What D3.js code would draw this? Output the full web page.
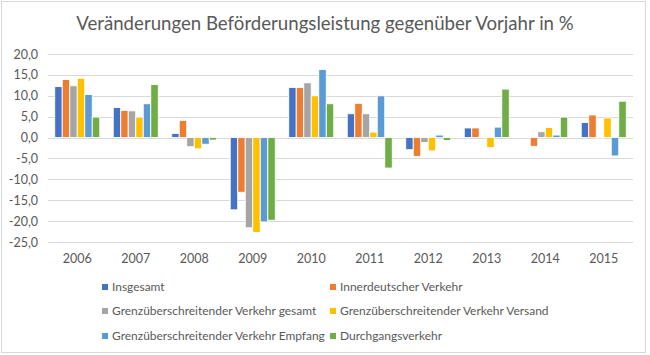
<!DOCTYPE html>
<html><head><meta charset="utf-8">
<script src="https://cdn.jsdelivr.net/npm/d3@7"></script>
<style>
html,body{margin:0;padding:0;background:#fff;}
svg{display:block;font-family:Lato,"Open Sans",sans-serif;}
</style></head>
<body>
<svg id="chart" width="650" height="355"></svg>
<script>
const years = ["2006","2007","2008","2009","2010","2011","2012","2013","2014","2015"];
const seriesNames = ["Insgesamt","Innerdeutscher Verkehr","Grenzüberschreitender Verkehr gesamt","Grenzüberschreitender Verkehr Versand","Grenzüberschreitender Verkehr Empfang","Durchgangsverkehr"];
const insgesamt     = [12.2, 7.2, 1.0, -17.3, 12.0, 5.7, -2.9, 2.3, 0.0, 3.6];
const innerdeutsch  = [13.9, 6.5, 4.1, -13.1, 12.0, 8.2, -4.5, 2.3, -2.1, 5.4];
const grenzGesamt   = [12.4, 6.4, -2.2, -21.6, 13.1, 5.7, -1.2, 0.2, 1.4, -0.3];
const grenzVersand  = [14.2, 4.9, -2.7, -22.7, 10.0, 1.3, -3.2, -2.4, 2.4, 4.7];
const grenzEmpfang  = [10.3, 8.1, -1.6, -20.2, 16.3, 10.0, 0.6, 2.5, 0.6, -4.4];
const durchgang     = [4.9, 12.7, -0.6, -19.8, 8.1, -7.3, -0.7, 11.6, 4.9, 8.7];
const yTicks = [20, 15, 10, 5, 0, -5, -10, -15, -20, -25];
const colors = ["#4472C4","#ED7D31","#A5A5A5","#FFC000","#5B9BD5","#70AD47"];
const title = "Veränderungen Beförderungsleistung gegenüber Vorjahr in %";

const seriesValues = [insgesamt, innerdeutsch, grenzGesamt, grenzVersand, grenzEmpfang, durchgang];
const svg = d3.select("#chart");
const textColor = "#595959";

function fitSize(sel, base, target) {
  const w = sel.node().getComputedTextLength();
  return base * target / w;
}

// frame
svg.append("rect").attr("x",1.5).attr("y",1.5).attr("width",644).attr("height",351)
  .attr("fill","#fff").attr("stroke","#d9d9d9").attr("stroke-width",1);

// title
const t = svg.append("text").attr("x",325).attr("y",30).attr("text-anchor","middle")
  .attr("fill",textColor).attr("font-size",18.5).text(title);
t.attr("font-size", fitSize(t, 18.5, 498));

const x = d3.scaleBand().domain(years).range([48,633]).paddingInner(0.23).paddingOuter(0.115);
const xs = d3.scaleBand().domain(d3.range(seriesNames.length)).range([0,x.bandwidth()]);
const y = d3.scaleLinear().domain([-25,20]).range([242,54]);

// gridlines
svg.append("g").selectAll("line").data(yTicks).join("line")
  .attr("x1",48).attr("x2",633)
  .attr("y1",d=>Math.round(y(d))+0.5).attr("y2",d=>Math.round(y(d))+0.5)
  .attr("stroke","#d9d9d9").attr("stroke-width",1);

// y axis labels
const fmt = d => d3.format(".1f")(d).replace(".",",").replace("−","-");
const yAxis = d3.axisLeft(y).tickValues(yTicks).tickFormat(fmt).tickSize(0).tickPadding(0);
const gy = svg.append("g").attr("transform","translate(38,0)").call(yAxis);
gy.select(".domain").remove();
gy.selectAll("text").attr("fill",textColor).attr("font-size",12.5).attr("font-family","Lato,'Open Sans',sans-serif");

// bars
const groups = svg.append("g").selectAll("g").data(years).join("g")
  .attr("transform",d=>`translate(${x(d)},0)`);
groups.selectAll("rect").data((yr,i)=>seriesValues.map((vals,s)=>({s,v:vals[i]})))
  .join("rect")
  .attr("x",d=>xs(d.s))
  .attr("width",xs.bandwidth())
  .attr("y",d=>y(Math.max(0,d.v)))
  .attr("height",d=>Math.abs(y(d.v)-y(0)))
  .attr("fill",d=>colors[d.s])
  .attr("stroke","#fff").attr("stroke-width",0.9);

// x axis labels
const xAxis = d3.axisBottom(x).tickSize(0).tickPadding(0);
const gx = svg.append("g").attr("transform","translate(0,259)").call(xAxis);
gx.select(".domain").remove();
gx.selectAll("text").attr("fill",textColor).attr("font-size",12.5).attr("dy","0.35em")
  .attr("font-family","Lato,'Open Sans',sans-serif");

// legend
const legendX = [102, 330];
const legendY = [287, 311, 336];
const lg = svg.append("g").selectAll("g").data(seriesNames).join("g")
  .attr("transform",(d,i)=>`translate(${legendX[i%2]},${legendY[Math.floor(i/2)]})`);
lg.append("rect").attr("x",0).attr("y",-3).attr("width",6).attr("height",6).attr("fill",(d,i)=>colors[i]);
const lt = lg.append("text").attr("x",10).attr("y",0).attr("dy","0.35em").attr("fill",textColor)
  .attr("font-size",12.5).text(d=>d);
const lfs = fitSize(lt.filter((d,i)=>i===4), 12.5, 213);
lt.attr("font-size", lfs);
</script>
</body></html>
